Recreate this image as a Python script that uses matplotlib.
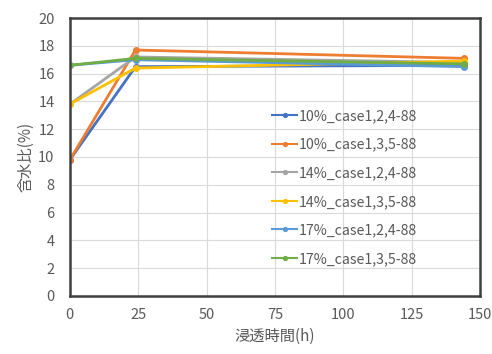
import matplotlib
matplotlib.use("Agg")
import matplotlib.pyplot as plt

plt.rcParams['font.family'] = ['Noto Sans CJK JP', 'DejaVu Sans']

# 浸透時間 (h) と各ケースの含水比 (%)
hours = [0, 24, 144]
labels = ['10%_case1,2,4-88', '10%_case1,3,5-88', '14%_case1,2,4-88',
          '14%_case1,3,5-88', '17%_case1,2,4-88', '17%_case1,3,5-88']
w10_a = [9.8, 16.5, 16.6]
w10_b = [9.8, 17.7, 17.1]
w14_a = [13.8, 17.2, 16.8]
w14_b = [13.8, 16.4, 16.9]
w17_a = [16.6, 17.0, 16.5]
w17_b = [16.6, 17.1, 16.7]
series = [w10_a, w10_b, w14_a, w14_b, w17_a, w17_b]
colors = ['#4472C4', '#ED7D31', '#A5A5A5', '#FFC000', '#5B9BD5', '#70AD47']

fig = plt.figure(figsize=(4.92, 3.54), dpi=100)
ax = fig.add_axes([0.142, 0.164, 0.834, 0.785])

for vals, lab, c in zip(series, labels, colors):
    ax.plot(hours, vals, color=c, lw=2, marker='o', ms=4, label=lab)

ax.set_xlim(0, 150)
ax.set_ylim(0, 20)
ax.set_xticks(range(0, 151, 25))
ax.set_yticks(range(0, 21, 2))
ax.grid(True, color='#D9D9D9', lw=0.8)
ax.set_axisbelow(True)
for s in ax.spines.values():
    s.set_color('#404040')
    s.set_linewidth(1.8)
ax.tick_params(length=0, labelsize=10.5, colors='#595959')
ax.tick_params(axis='x', pad=9)
ax.tick_params(axis='y', pad=11)

ax.set_xlabel('浸透時間(h)', fontsize=11, color='#595959', labelpad=4)
ax.set_ylabel('含水比(%)', fontsize=11, color='#595959', labelpad=3)

leg = ax.legend(loc='center left', bbox_to_anchor=(0.48, 0.39), frameon=False,
                fontsize=10.2, handlelength=1.7, handletextpad=0.15,
                labelspacing=1.03, borderaxespad=0, markerscale=0.7)
for t in leg.get_texts():
    t.set_color('#595959')
for h in leg.get_lines():
    h.set_linewidth(1.5)

fig.savefig('out.png', dpi=100)
